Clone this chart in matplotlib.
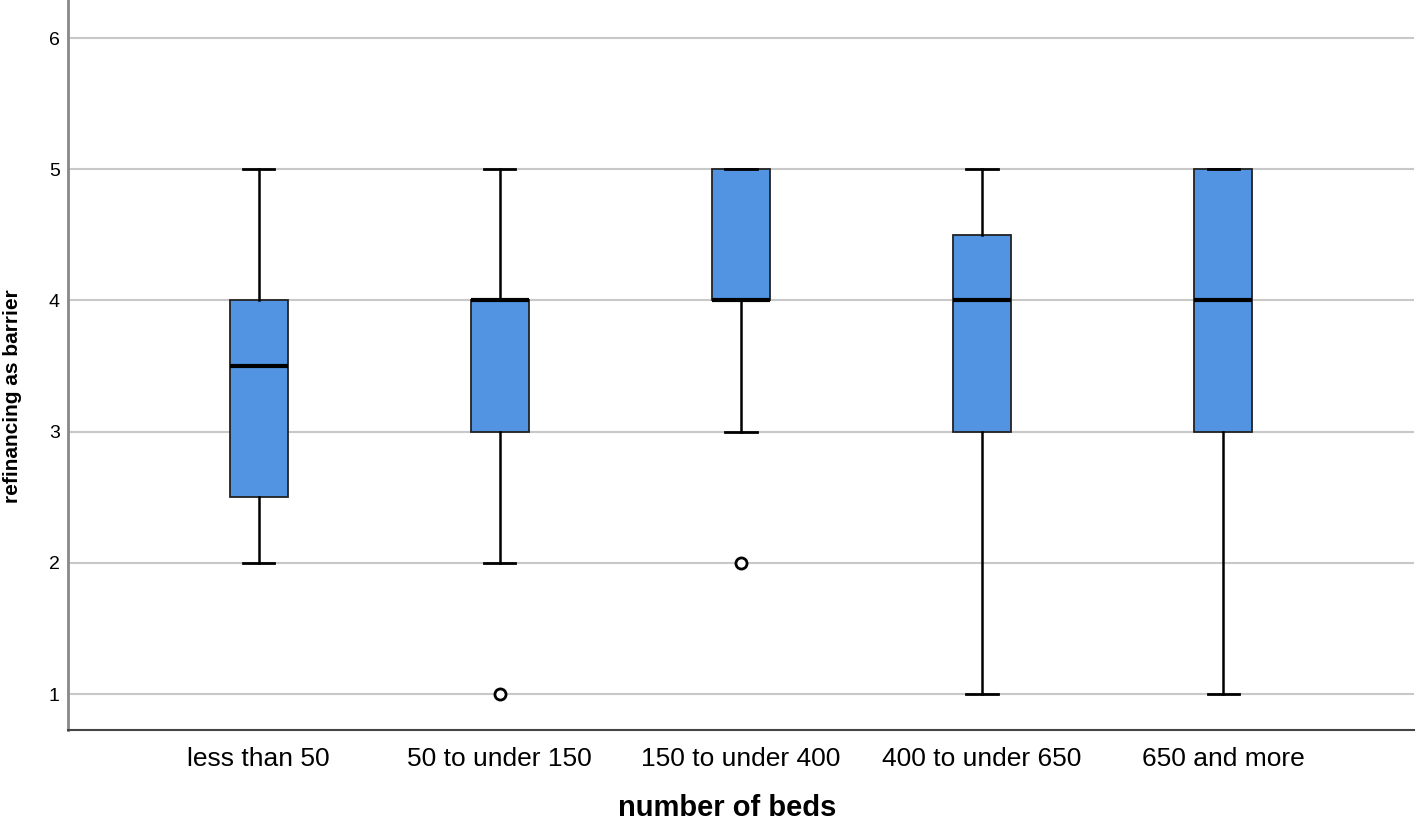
import matplotlib
matplotlib.use("Agg")
import matplotlib.pyplot as plt

plt.rcParams['font.family'] = ['Liberation Sans', 'DejaVu Sans']

# Box statistics
categories = ['less than 50', '50 to under 150', '150 to under 400', '400 to under 650', '650 and more']
whis_lo = [2, 2, 3, 1, 1]
q1 = [2.5, 3, 4, 3, 3]
medians = [3.5, 4, 4, 4, 4]
q3 = [4, 4, 5, 4.5, 5]
whis_hi = [5, 5, 5, 5, 5]
outliers = [[], [1], [2], [], []]

stats = []
for i, name in enumerate(categories):
    stats.append({
        'label': name,
        'whislo': whis_lo[i],
        'q1': q1[i],
        'med': medians[i],
        'q3': q3[i],
        'whishi': whis_hi[i],
        'fliers': outliers[i],
    })

fig = plt.figure(figsize=(14.18, 8.25), dpi=100)
ax = fig.add_axes([0.048, 0.115, 0.949, 0.885])

ax.yaxis.grid(True, color='#c8c8c8', linewidth=1.5, zorder=0)
ax.set_axisbelow(True)

positions = list(range(1, len(categories) + 1))
ax.bxp(stats, positions=positions, widths=0.24, patch_artist=True,
       boxprops=dict(facecolor='#5294e2', edgecolor='#222222', linewidth=1.3),
       medianprops=dict(color='black', linewidth=3),
       whiskerprops=dict(color='black', linewidth=1.8),
       capprops=dict(color='black', linewidth=2),
       capwidths=0.13,
       flierprops=dict(marker='o', markerfacecolor='white', markeredgecolor='black',
                       markersize=8, markeredgewidth=2))

ax.set_xlim(0.21, 5.79)
ax.set_ylim(0.725, 6.29)
ax.set_yticks([1, 2, 3, 4, 5, 6])
ax.tick_params(axis='both', length=0)
ax.tick_params(axis='y', labelsize=14, pad=6)
ax.tick_params(axis='x', labelsize=19, pad=12)

for s in ['top', 'right']:
    ax.spines[s].set_visible(False)
ax.spines['left'].set_color('#888888')
ax.spines['left'].set_linewidth(2)
ax.spines['bottom'].set_color('#444444')
ax.spines['bottom'].set_linewidth(1.5)

ax.set_xlabel('number of beds', fontsize=21, fontweight='bold')
ax.set_ylabel('refinancing as barrier', fontsize=15, fontweight='bold')
ax.xaxis.set_label_coords(0.49, -0.088)
ax.yaxis.set_label_coords(-0.034, 0.458)

fig.savefig('out.png', dpi=100)
